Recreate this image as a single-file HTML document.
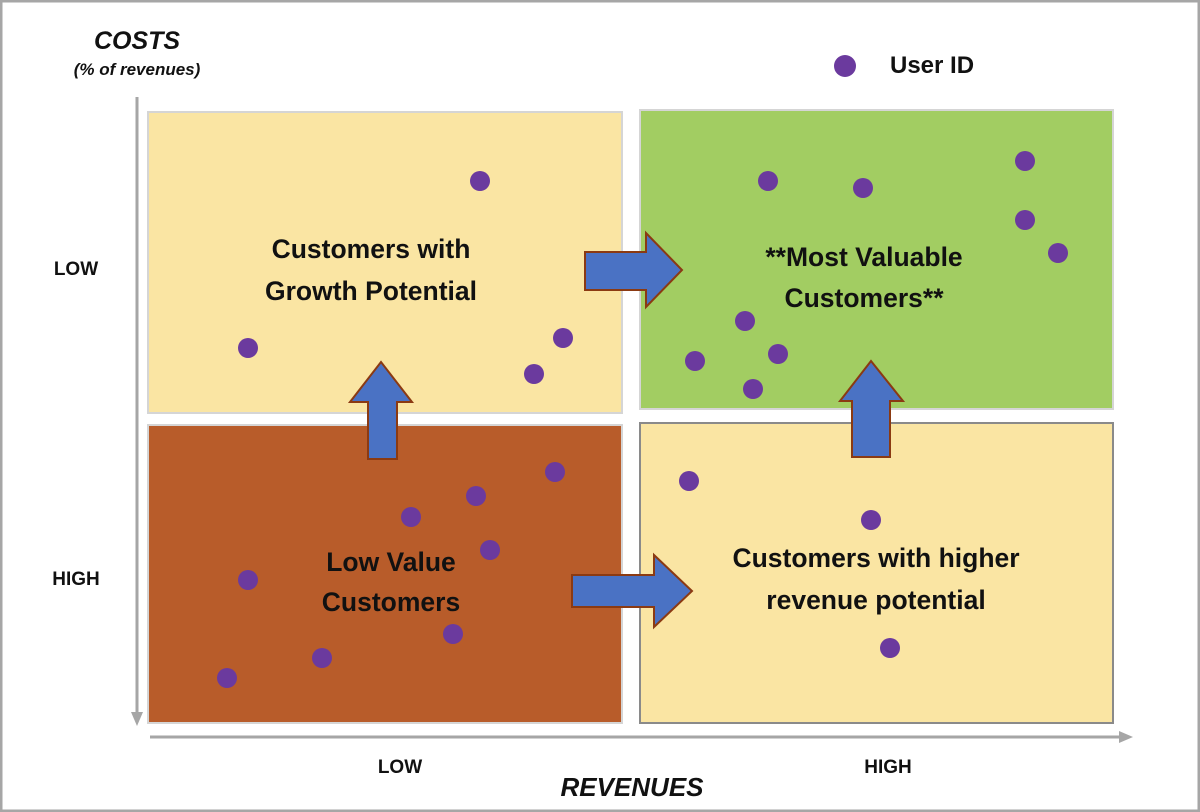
<!DOCTYPE html>
<html><head><style>
body{margin:0;background:#fff}
svg{display:block}
text{font-family:"Liberation Sans",sans-serif;font-weight:bold;fill:#111}
</style></head><body>
<svg width="1200" height="812" viewBox="0 0 1200 812">
<rect x="1" y="1" width="1198" height="810" fill="#fff" stroke="#a6a6a6" stroke-width="3"/>
<rect x="148" y="112" width="474" height="301" fill="#fae5a3" stroke="#d5d5d5" stroke-width="2"/>
<rect x="640" y="110" width="473" height="299" fill="#a2cd62" stroke="#d5d5d5" stroke-width="2"/>
<rect x="148" y="425" width="474" height="298" fill="#b85c2a" stroke="#d5d5d5" stroke-width="2"/>
<rect x="640" y="423" width="473" height="300" fill="#fae5a3" stroke="#8a8a8a" stroke-width="2"/>
<line x1="137" y1="97" x2="137" y2="715" stroke="#a6a6a6" stroke-width="3"/>
<polygon points="131,712 143,712 137,726" fill="#a6a6a6"/>
<line x1="150" y1="737" x2="1122" y2="737" stroke="#a6a6a6" stroke-width="3"/>
<polygon points="1119,731 1119,743 1133,737" fill="#a6a6a6"/>
<g fill="#4a72c4" stroke="#8b3a12" stroke-width="2">
<polygon points="585,252 646,252 646,233 682,270 646,307 646,290 585,290"/>
<polygon points="572,575 654,575 654,555 692,591 654,627 654,607 572,607"/>
<polygon points="368,459 368,402 350,402 381,362 412,402 397,402 397,459"/>
<polygon points="852,457 852,401 840,401 871,361 903,401 890,401 890,457"/>
</g>
<g fill="#6b3a9e">
<circle cx="845" cy="66" r="11"/>
<circle cx="480" cy="181" r="10"/><circle cx="248" cy="348" r="10"/><circle cx="563" cy="338" r="10"/><circle cx="534" cy="374" r="10"/>
<circle cx="768" cy="181" r="10"/><circle cx="863" cy="188" r="10"/><circle cx="1025" cy="161" r="10"/><circle cx="1025" cy="220" r="10"/><circle cx="1058" cy="253" r="10"/>
<circle cx="745" cy="321" r="10"/><circle cx="778" cy="354" r="10"/><circle cx="695" cy="361" r="10"/><circle cx="753" cy="389" r="10"/>
<circle cx="555" cy="472" r="10"/><circle cx="476" cy="496" r="10"/><circle cx="411" cy="517" r="10"/><circle cx="490" cy="550" r="10"/><circle cx="248" cy="580" r="10"/><circle cx="453" cy="634" r="10"/><circle cx="322" cy="658" r="10"/><circle cx="227" cy="678" r="10"/>
<circle cx="689" cy="481" r="10"/><circle cx="871" cy="520" r="10"/><circle cx="890" cy="648" r="10"/>
</g>
<text x="137" y="49" font-size="25" font-style="italic" text-anchor="middle">COSTS</text>
<text x="137" y="75" font-size="17" font-style="italic" text-anchor="middle">(% of revenues)</text>
<text x="890" y="73" font-size="24">User ID</text>
<text x="76" y="275" font-size="19" text-anchor="middle">LOW</text>
<text x="76" y="585" font-size="19" text-anchor="middle">HIGH</text>
<text x="400" y="773" font-size="19" text-anchor="middle">LOW</text>
<text x="888" y="773" font-size="19" text-anchor="middle">HIGH</text>
<text x="632" y="796" font-size="26" font-style="italic" text-anchor="middle">REVENUES</text>
<g font-size="26.5" text-anchor="middle">
<text x="371" y="258">Customers with</text><text x="371" y="300">Growth Potential</text>
<text x="864" y="266">**Most Valuable</text><text x="864" y="307">Customers**</text>
<text x="391" y="571">Low Value</text><text x="391" y="611">Customers</text>
<text x="876" y="567">Customers with higher</text><text x="876" y="609">revenue potential</text>
</g>
</svg>
</body></html>
